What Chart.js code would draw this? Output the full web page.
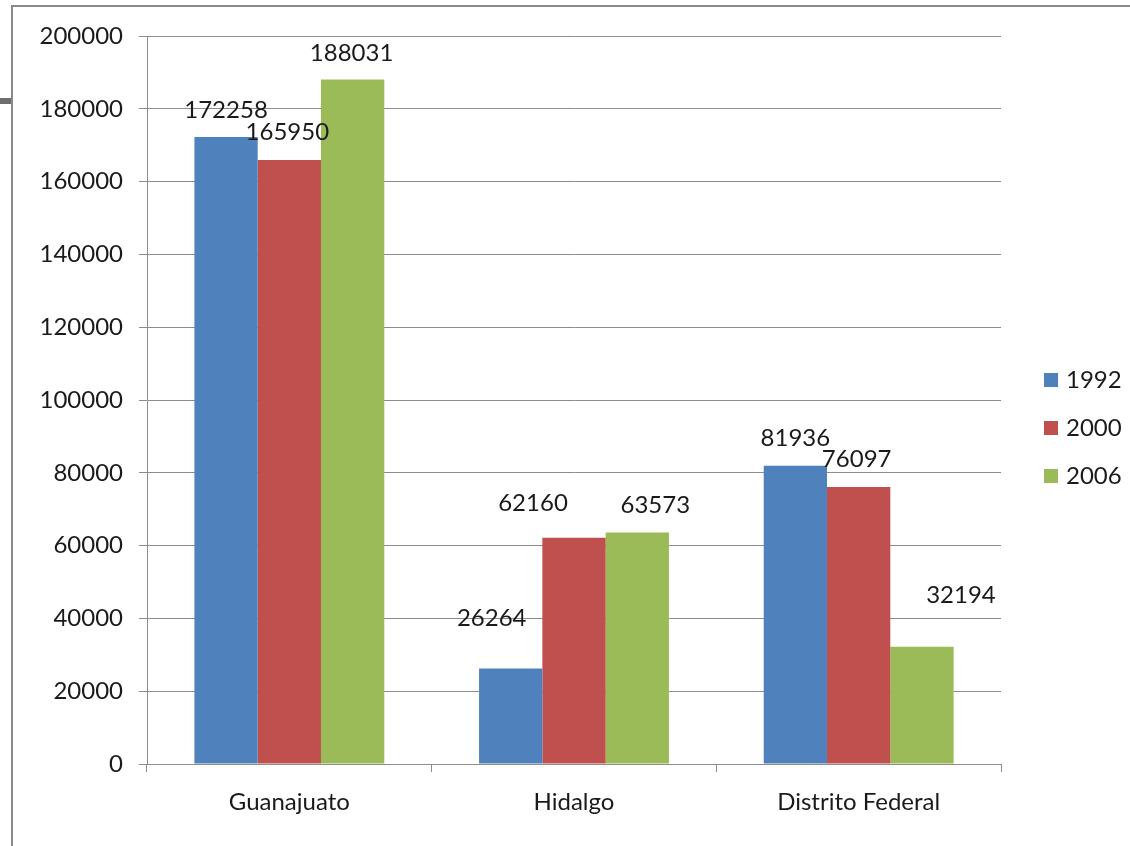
<!DOCTYPE html>
<html>
<head>
<meta charset="utf-8">
<script src="https://cdn.jsdelivr.net/npm/chart.js@4"></script>
<style>
  body { margin: 0; background: #fff; }
  #wrap { position: relative; width: 1130px; height: 846px; overflow: hidden; }
  #chart { position: absolute; left: 0; top: 0; }
  .frameTop { position: absolute; left: 11px; top: 5px; width: 1119px; height: 2px; background: #8a8a8a; }
  .frameLeft { position: absolute; left: 11px; top: 5px; width: 2px; height: 841px; background: #8a8a8a; }
  .nub { position: absolute; left: 0; top: 98px; width: 11px; height: 6px; background: #6e6e6e; }
</style>
</head>
<body>
<div id="wrap">
  <canvas id="chart" width="1130" height="846"></canvas>
  <div class="frameTop"></div>
  <div class="frameLeft"></div>
  <div class="nub"></div>
</div>
<script>
const estados = ['Guanajuato', 'Hidalgo', 'Distrito Federal'];
const anios = ['1992', '2000', '2006'];
const v1992 = [172258, 26264, 81936];
const v2000 = [165950, 62160, 76097];
const v2006 = [188031, 63573, 32194];
const yTicks = [0, 20000, 40000, 60000, 80000, 100000, 120000, 140000, 160000, 180000, 200000];

const colores = ['#4F81BD', '#C0504D', '#9BBB59'];
const fuente = 'Lato, "Open Sans", sans-serif';
const texto = '#1a1a1a';
const gris = '#8c8c8c';

// los rotulos en el original estan movidos a mano, asi que van desplazados [dx, dy]
const desplazar = [
    [[0, 27], [-19, 50], [0, 27]],
    [[-2, 28], [-41, 34], [-2, 28]],
    [[-1, 26], [18, 27], [39, 52]]
];

const rotulos = {
    id: 'rotulos',
    afterDatasetsDraw(chart) {
        const ctx = chart.ctx;
        ctx.save();
        ctx.font = '24px ' + fuente;
        ctx.fillStyle = texto;
        ctx.textAlign = 'center';
        ctx.textBaseline = 'middle';
        chart.data.datasets.forEach((ds, i) => {
            chart.getDatasetMeta(i).data.forEach((bar, j) => {
                const d = desplazar[i][j];
                ctx.fillText(ds.data[j], bar.x + d[0], bar.y - d[1]);
            });
        });
        ctx.restore();
    }
};

const leyenda = {
    id: 'leyenda',
    afterDraw(chart) {
        const ctx = chart.ctx;
        ctx.save();
        ctx.font = '24px ' + fuente;
        ctx.textBaseline = 'middle';
        chart.data.datasets.forEach((ds, i) => {
            const y = 380 + i * 48;
            ctx.fillStyle = ds.backgroundColor;
            ctx.fillRect(1044, y - 7, 14, 14);
            ctx.fillStyle = texto;
            ctx.fillText(ds.label, 1066, y);
        });
        ctx.restore();
    }
};

new Chart(document.getElementById('chart'), {
    type: 'bar',
    data: {
        labels: estados,
        datasets: [
            { label: anios[0], data: v1992, backgroundColor: colores[0] },
            { label: anios[1], data: v2000, backgroundColor: colores[1] },
            { label: anios[2], data: v2006, backgroundColor: colores[2] }
        ]
    },
    options: {
        responsive: false,
        animation: false,
        layout: { padding: { left: 0, top: 36, right: 129, bottom: 0 } },
        datasets: { bar: { categoryPercentage: 0.667, barPercentage: 1.0 } },
        scales: {
            x: {
                afterFit(scale) { scale.height = 82; },
                grid: { offset: true, drawOnChartArea: false, drawTicks: true, tickLength: 8, color: gris },
                border: { color: gris },
                ticks: { font: { family: fuente, size: 24 }, color: texto, padding: 16 }
            },
            y: {
                min: 0,
                max: 200000,
                afterFit(scale) { scale.width = 147; },
                afterBuildTicks(scale) { scale.ticks = yTicks.map(v => ({ value: v })); },
                grid: { color: gris, tickLength: 8 },
                border: { color: gris },
                ticks: {
                    font: { family: fuente, size: 24 },
                    color: texto,
                    padding: 16,
                    callback: (v) => String(v)
                }
            }
        },
        plugins: {
            legend: { display: false },
            tooltip: { enabled: false }
        }
    },
    plugins: [rotulos, leyenda]
});
</script>
</body>
</html>
